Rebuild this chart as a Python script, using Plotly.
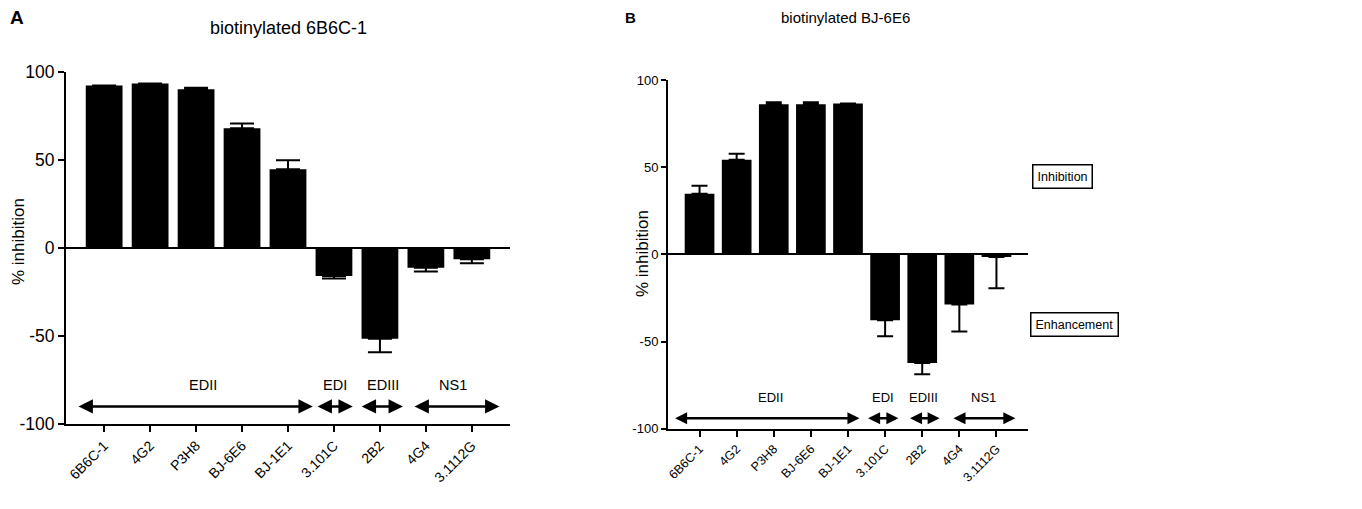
import plotly.graph_objects as go

# ---------------- data ----------------
categories = ["6B6C-1", "4G2", "P3H8", "BJ-6E6", "BJ-1E1", "3.101C", "2B2", "4G4", "3.1112G"]

values_a = [92.4, 93.4, 90.2, 68.0, 44.7, -15.9, -51.5, -11.2, -6.4]
errors_a = [0.0, 0.0, 0.9, 2.8, 5.1, 1.5, 7.8, 2.2, 2.3]

values_b = [34.8, 54.3, 86.1, 86.1, 86.5, -37.8, -62.3, -28.7, -1.5]
errors_b = [4.6, 3.4, 1.2, 1.2, 0.0, 9.2, 6.5, 15.6, 18.0]

group_names = ["EDII", "EDI", "EDIII", "NS1"]
y_ticks = [-100, -50, 0, 50, 100]
y_tick_text = ["-100", "-50", "0", "50", "100"]

title_a = "biotinylated 6B6C-1"
title_b = "biotinylated BJ-6E6"

# ---------------- layout helpers ----------------
OFF = 8  # page body margin
W, H = 1362 - OFF, 509 - OFF
FONT = "Liberation Sans, Arial, sans-serif"


def px(x):
    return (x - OFF) / W


def py(y):
    return 1 - (y - OFF) / H


def outward(vals, errs):
    plus = [e if v >= 0 else 0 for v, e in zip(vals, errs)]
    minus = [e if v < 0 else 0 for v, e in zip(vals, errs)]
    return plus, minus


fig = go.Figure()

for vals, errs, xa, ya, capw in [
    (values_a, errors_a, "x", "y", 12),
    (values_b, errors_b, "x2", "y2", 8),
]:
    plus, minus = outward(vals, errs)
    fig.add_trace(go.Bar(
        x=categories, y=vals, xaxis=xa, yaxis=ya, width=0.8,
        marker=dict(color="black", line=dict(width=0)),
        error_y=dict(type="data", symmetric=False, array=plus, arrayminus=minus,
                     color="black", thickness=2, width=capw),
        showlegend=False,
    ))

axis_common = dict(showline=True, linecolor="black", linewidth=2, ticks="outside",
                   tickcolor="black", tickwidth=2, showgrid=False, automargin=False)

fig.update_layout(
    width=W, height=H,
    margin=dict(l=0, r=0, t=0, b=0, autoexpand=False),
    paper_bgcolor="white", plot_bgcolor="white",
    font=dict(family=FONT, color="black"),
    bargap=0.2,
    xaxis=dict(domain=[px(66), px(510)], anchor="y", range=[-0.83, 8.83],
               tickangle=-45, ticklen=6, tickfont=dict(size=14),
               type="category", **axis_common),
    yaxis=dict(domain=[py(424), py(72)], anchor="x", range=[-100, 100],
               tickvals=y_ticks, ticktext=y_tick_text, ticklen=6, tickfont=dict(size=17.5),
               zeroline=True, zerolinecolor="black", zerolinewidth=2,
               **axis_common),
    xaxis2=dict(domain=[px(668), px(1028)], anchor="y2", range=[-0.85, 8.85],
                tickangle=-45, ticklen=6, tickfont=dict(size=12.5),
                type="category", **axis_common),
    yaxis2=dict(domain=[py(428.7), py(80)], anchor="x2", range=[-100, 100],
                tickvals=y_ticks, ticktext=y_tick_text, ticklen=5, tickfont=dict(size=13),
                zeroline=True, zerolinecolor="black", zerolinewidth=2,
                **axis_common),
)

annotations = []


def paper_text(text, x, y, size, **kw):
    d = dict(text=text, x=px(x), y=py(y), xref="paper", yref="paper",
             xanchor="center", yanchor="middle", showarrow=False, font=dict(size=size))
    d.update(kw)
    return d


annotations += [
    paper_text("<b>A</b>", 17, 18, 19),
    paper_text("<b>B</b>", 630, 18, 15),
    paper_text(title_a, 288, 28, 18),
    paper_text(title_b, 845, 18, 15),
    paper_text("% inhibition", 18, 242, 17, textangle=-90),
    paper_text("% inhibition", 642, 254, 17, textangle=-90),
    paper_text("Inhibition", 1062.5, 176, 12.5, bordercolor="black", borderwidth=1.5,
               borderpad=4, bgcolor="white"),
    paper_text("Enhancement", 1074.5, 324.5, 12.5, bordercolor="black", borderwidth=1.5,
               borderpad=4, bgcolor="white"),
]

# epitope group arrows (spans in category units)
spans_a = [(-0.59, 4.54), (4.61, 5.41), (5.57, 6.50), (6.72, 8.60)]
label_x_a = [2.15, 5.02, 6.07, 7.60]
spans_b = [(-0.70, 4.31), (4.50, 5.36), (5.63, 6.47), (6.80, 8.51)]
label_x_b = [1.90, 4.95, 6.04, 7.66]

for spans, labx, xr, yr, arrow_y, label_y, fs, aw, asz in [
    (spans_a, label_x_a, "x", "y", -90, -78, 14.5, 2.5, 1.15),
    (spans_b, label_x_b, "x2", "y2", -94, -82, 13, 2.3, 1.05),
]:
    for name, (x0, x1), lx in zip(group_names, spans, labx):
        annotations.append(dict(
            x=x1, y=arrow_y, ax=x0, ay=arrow_y, xref=xr, yref=yr, axref=xr, ayref=yr,
            text="", showarrow=True, arrowhead=2, startarrowhead=2,
            arrowside="end+start", arrowwidth=aw, arrowsize=asz, startarrowsize=asz,
            arrowcolor="black", standoff=0, startstandoff=0,
        ))
        annotations.append(dict(
            x=lx, y=label_y, xref=xr, yref=yr, text=name, showarrow=False,
            xanchor="center", yanchor="middle", font=dict(size=fs),
        ))

fig.update_layout(annotations=annotations)

fig.write_html("out.html")
